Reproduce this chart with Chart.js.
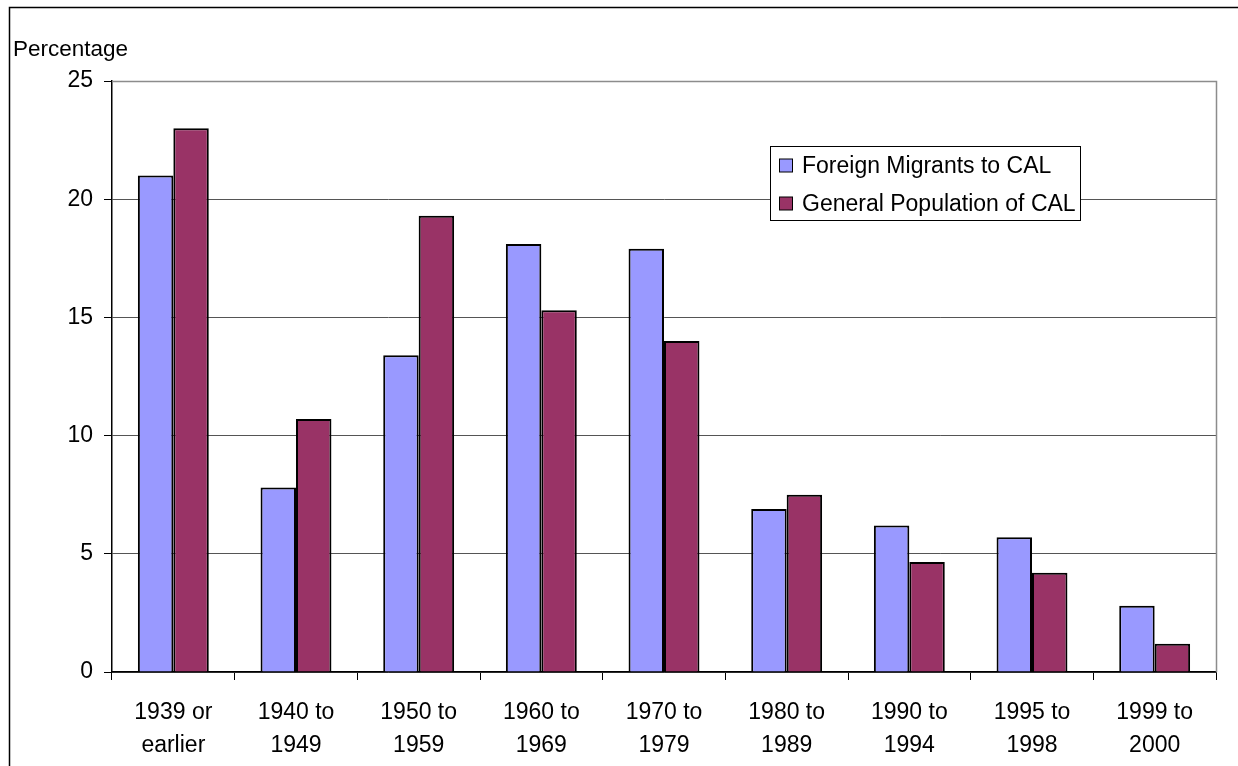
<!DOCTYPE html>
<html>
<head>
<meta charset="utf-8">
<script src="https://cdn.jsdelivr.net/npm/chart.js@4/dist/chart.umd.min.js"></script>
<style>
  html, body { margin: 0; padding: 0; background: #fff; }
  canvas { display: block; }
</style>
</head>
<body>
<canvas id="chart" width="1238" height="766"></canvas>
<script>
// data
const periods = [
  ["1939 or", "earlier"], ["1940 to", "1949"], ["1950 to", "1959"],
  ["1960 to", "1969"], ["1970 to", "1979"], ["1980 to", "1989"],
  ["1990 to", "1994"], ["1995 to", "1998"], ["1999 to", "2000"]
];
const foreignMigrants = [21.0, 7.8, 13.4, 18.1, 17.9, 6.9, 6.2, 5.7, 2.8];
const generalPopulation = [23.0, 10.7, 19.3, 15.3, 14.0, 7.5, 4.65, 4.2, 1.2];
const seriesNames = ["Foreign Migrants to CAL", "General Population of CAL"];
const yTicks = [0, 5, 10, 15, 20, 25];

const FONT = "'Liberation Sans', Arial, sans-serif";

// frame, axis title, plot border and the legend box
const decorations = {
  id: "decorations",
  beforeDatasetsDraw(chart) {
    const { ctx, chartArea: a } = chart;
    ctx.save();
    ctx.strokeStyle = "#8c8c8c";
    ctx.lineWidth = 1.5;
    ctx.beginPath();
    ctx.moveTo(a.left, a.top + 0.5);
    ctx.lineTo(a.right + 0.5, a.top + 0.5);
    ctx.lineTo(a.right + 0.5, a.bottom);
    ctx.stroke();
    ctx.restore();
  },
  afterDraw(chart) {
    const { ctx } = chart;
    ctx.save();
    // outer frame
    ctx.strokeStyle = "#000";
    ctx.lineWidth = 1.5;
    ctx.strokeRect(9.5, 7.5, 1400, 900);

    // y title
    ctx.fillStyle = "#000";
    ctx.font = "22.5px " + FONT;
    ctx.textAlign = "left";
    ctx.textBaseline = "middle";
    ctx.fillText("Percentage", 13, 50);

    // legend
    const bx = 770.5, by = 146.5, bw = 310, bh = 74;
    ctx.fillStyle = "#fff";
    ctx.fillRect(bx, by, bw, bh);
    ctx.strokeStyle = "#000";
    ctx.lineWidth = 1;
    ctx.strokeRect(bx, by, bw, bh);
    ctx.font = "23px " + FONT;
    chart.data.datasets.forEach((ds, i) => {
      const cy = 166 + i * 38;
      ctx.fillStyle = ds.backgroundColor;
      ctx.fillRect(779.5, cy - 7, 13, 13);
      ctx.strokeRect(779.5, cy - 7, 13, 13);
      ctx.fillStyle = "#000";
      ctx.fillText(ds.label, 802, cy + 1);
    });
    ctx.restore();
  }
};

new Chart(document.getElementById("chart"), {
  type: "bar",
  data: {
    labels: periods,
    datasets: [
      {
        label: seriesNames[0],
        data: foreignMigrants,
        backgroundColor: "#9999ff",
        borderColor: "#000",
        borderWidth: 2
      },
      {
        label: seriesNames[1],
        data: generalPopulation,
        backgroundColor: "#993366",
        borderColor: "#000",
        borderWidth: 2
      }
    ]
  },
  options: {
    responsive: false,
    animation: false,
    categoryPercentage: 0.578,
    barPercentage: 1.0,
    layout: { padding: { top: 81, right: 22, left: 0, bottom: 0 } },
    plugins: {
      legend: { display: false },
      tooltip: { enabled: false }
    },
    scales: {
      x: {
        offset: true,
        grid: {
          offset: true,
          drawOnChartArea: false,
          drawTicks: true,
          tickLength: 8,
          tickColor: "#000"
        },
        border: { color: "#000", width: 1.5 },
        ticks: {
          color: "#000",
          font: { family: FONT, size: 23, lineHeight: 1.4 },
          padding: 17,
          maxRotation: 0
        },
        afterFit(scale) { scale.height = 94; }
      },
      y: {
        min: 0,
        max: 25,
        afterBuildTicks(scale) { scale.ticks = yTicks.map(v => ({ value: v })); },
        grid: {
          color: (c) => c.tick && c.tick.value === 25 ? "rgba(0,0,0,0)" : "#555",
          tickColor: "#000",
          tickLength: 8,
          lineWidth: 1
        },
        border: { color: "#000", width: 1.5 },
        ticks: {
          color: "#000",
          font: { family: FONT, size: 23 },
          padding: 11
        },
        afterFit(scale) { scale.width = 112; }
      }
    }
  },
  plugins: [decorations]
});
</script>
</body>
</html>
